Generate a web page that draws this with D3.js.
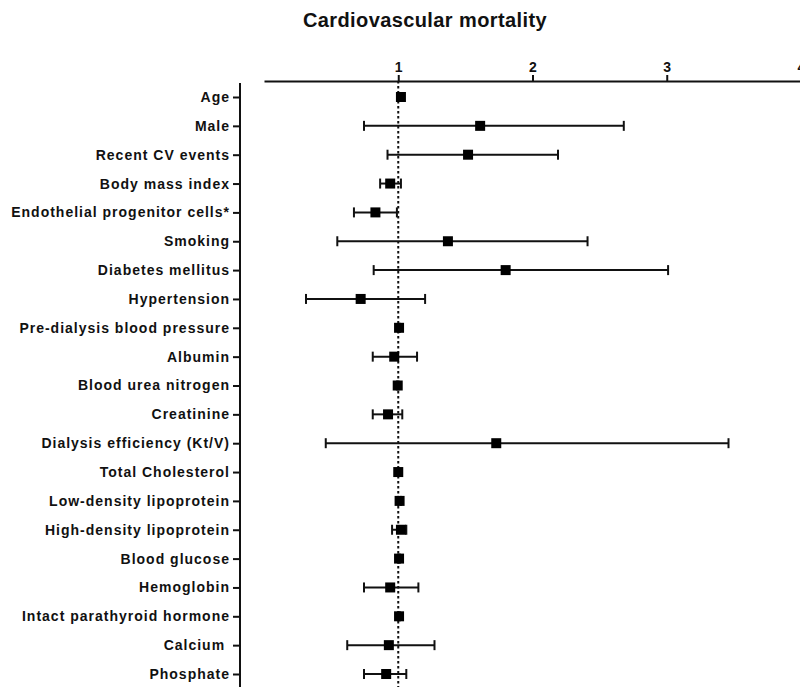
<!DOCTYPE html>
<html>
<head>
<meta charset="utf-8">
<script src="https://cdn.jsdelivr.net/npm/d3@7"></script>
<style>
  body { margin: 0; background: #fff; }
  svg { display: block; font-family: 'Liberation Sans', Arial, sans-serif; }
</style>
</head>
<body>
<div id="chart"></div>
<script>
let width = 800
let height = 687

const factors = ['Age', 'Male', 'Recent CV events', 'Body mass index', 'Endothelial progenitor cells*',
  'Smoking', 'Diabetes mellitus', 'Hypertension', 'Pre-dialysis blood pressure', 'Albumin',
  'Blood urea nitrogen', 'Creatinine', 'Dialysis efficiency (Kt/V)', 'Total Cholesterol',
  'Low-density lipoprotein', 'High-density lipoprotein', 'Blood glucose', 'Hemoglobin',
  'Intact parathyroid hormone', 'Calcium ', 'Phosphate']
const hazard = [1.02, 1.61, 1.52, 0.94, 0.83, 1.37, 1.80, 0.72, 1.006, 0.97,
  0.996, 0.924, 1.73, 1.0, 1.01, 1.02, 1.006, 0.94, 1.006, 0.93, 0.91]
const lower = [1.01, 0.745, 0.92, 0.865, 0.67, 0.546, 0.817, 0.313, 1.0, 0.81,
  0.99, 0.81, 0.46, 0.995, 1.0, 0.954, 1.0, 0.745, 1.0, 0.62, 0.745]
const upper = [1.03, 2.68, 2.19, 1.02, 0.99, 2.41, 3.01, 1.20, 1.012, 1.14,
  1.002, 1.03, 3.46, 1.005, 1.02, 1.06, 1.012, 1.15, 1.012, 1.27, 1.06]
const xTicks = [1, 2, 3, 4]

let rows = factors.map((f, i) => ({name: f, hr: hazard[i], lo: lower[i], hi: upper[i]}))

let svg = d3.select('#chart').append('svg')
  .attr('width', width)
  .attr('height', height)

let xScale = d3.scaleLinear().domain([0, 4]).range([264, 801])
let yScale = d3.scalePoint().domain(factors).range([97, 674])

let axisY = 81
let yAxisX = 240

// title
svg.append('text')
  .attr('x', 425)
  .attr('y', 27)
  .attr('text-anchor', 'middle')
  .style('font-size', '20px')
  .style('letter-spacing', '0.4px')
  .style('font-weight', 'bold')
  .attr('fill', '#111')
  .text('Cardiovascular mortality')

// x axis on top
let xAxis = svg.append('g')
  .attr('transform', 'translate(0,' + axisY + ')')
  .call(d3.axisTop(xScale).tickValues(xTicks).tickSize(6).tickSizeOuter(0).tickFormat(d3.format('d')))
xAxis.select('.domain').attr('stroke-width', 2).attr('stroke', '#111')
xAxis.selectAll('.tick line').attr('stroke-width', 2).attr('stroke', '#111')
xAxis.selectAll('.tick text')
  .attr('y', -9)
  .style('font-size', '14px')
  .style('font-weight', 'bold')
  .attr('fill', '#111')

// y axis
let yAxis = svg.append('g')
  .attr('transform', 'translate(' + yAxisX + ',0)')
  .call(d3.axisLeft(yScale).tickSize(7).tickPadding(3).tickSizeOuter(0))
yAxis.select('.domain').remove()
yAxis.append('line')
  .attr('x1', 0).attr('x2', 0)
  .attr('y1', 83).attr('y2', height + 5)
  .attr('stroke', '#111')
  .attr('stroke-width', 2)
yAxis.selectAll('.tick line').attr('stroke-width', 2).attr('stroke', '#111')
yAxis.selectAll('.tick text')
  .style('font-size', '14px')
  .style('letter-spacing', '1px')
  .style('font-weight', 'bold')
  .attr('fill', '#111')
  .style('white-space', 'pre')

// reference line at 1
svg.append('line')
  .attr('x1', xScale(1)).attr('x2', xScale(1))
  .attr('y1', axisY).attr('y2', height)
  .attr('stroke', '#111')
  .attr('stroke-width', 2)
  .attr('stroke-dasharray', '2.5,2.5')

let bars = svg.append('g').selectAll('g')
  .data(rows)
  .enter()
  .append('g')

bars.append('line')
  .attr('x1', d => xScale(d.lo))
  .attr('x2', d => xScale(d.hi))
  .attr('y1', d => yScale(d.name))
  .attr('y2', d => yScale(d.name))
  .attr('stroke', '#111')
  .attr('stroke-width', 2)

bars.selectAll('.cap')
  .data(d => [{v: d.lo, y: yScale(d.name)}, {v: d.hi, y: yScale(d.name)}])
  .enter()
  .append('line')
  .attr('class', 'cap')
  .attr('x1', d => xScale(d.v))
  .attr('x2', d => xScale(d.v))
  .attr('y1', d => d.y - 5)
  .attr('y2', d => d.y + 5)
  .attr('stroke', '#111')
  .attr('stroke-width', 2)

bars.append('rect')
  .attr('x', d => xScale(d.hr) - 5)
  .attr('y', d => yScale(d.name) - 5)
  .attr('width', 10)
  .attr('height', 10)
  .attr('fill', '#000')
</script>
</body>
</html>
